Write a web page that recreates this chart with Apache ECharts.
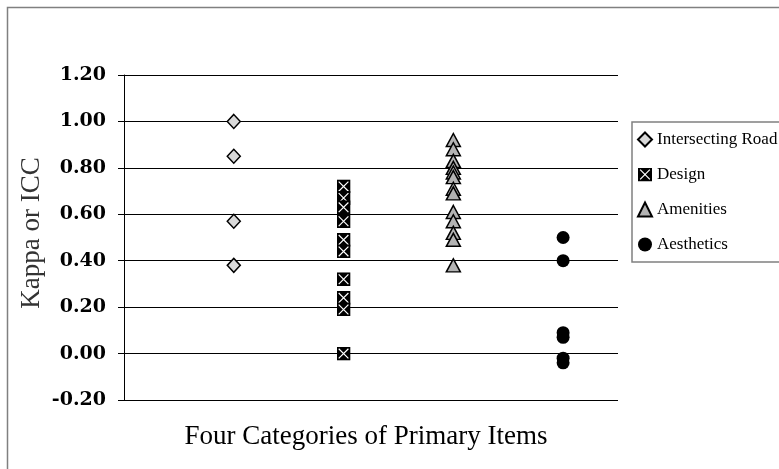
<!DOCTYPE html>
<html>
<head>
<meta charset="utf-8">
<script src="https://cdn.jsdelivr.net/npm/echarts@6/dist/echarts.min.js"></script>
<style>
html,body{margin:0;padding:0;background:#fff;}
#chart{width:779px;height:469px;}
</style>
</head>
<body>
<div id="chart"></div>
<script>
// ---- data ----
const categories = ['Intersecting Road', 'Design', 'Amenities', 'Aesthetics'];
const categoryX = [1, 2, 3, 4];
const intersectingRoad = [1.00, 0.85, 0.57, 0.38];
const design = [0.72, 0.67, 0.63, 0.57, 0.49, 0.44, 0.32, 0.24, 0.19, 0.00];
const amenities = [0.92, 0.88, 0.83, 0.80, 0.78, 0.76, 0.71, 0.69, 0.61, 0.57, 0.52, 0.49, 0.38];
const aesthetics = [0.50, 0.40, 0.09, 0.07, -0.02, -0.04];
const yMin = -0.2, yMax = 1.2, yStep = 0.2;
const yTitle = 'Kappa or ICC';
const xTitle = 'Four Categories of Primary Items';

const seriesValues = [intersectingRoad, design, amenities, aesthetics];

const xSvg = "<svg xmlns='http://www.w3.org/2000/svg' width='26' height='26'>" +
  "<rect width='26' height='26' fill='black'/>" +
  "<path d='M4,4L22,22M22,4L4,22' stroke='white' stroke-width='2.2'/></svg>";
const xSymbol = 'image://data:image/svg+xml;charset=utf-8,' + encodeURIComponent(xSvg);

const styles = [
  {symbol: 'diamond', symbolSize: [13, 14], itemStyle: {color: '#d9d9d9', borderColor: '#000', borderWidth: 1.5, opacity: 1}},
  {symbol: xSymbol, symbolSize: [14, 14], itemStyle: {color: '#000', opacity: 1}},
  {symbol: 'triangle', symbolSize: [14, 13], itemStyle: {color: '#b3b3b3', borderColor: '#000', borderWidth: 1.5, opacity: 1}},
  {symbol: 'circle', symbolSize: 13, itemStyle: {color: '#000', opacity: 1}}
];

const series = categories.map((name, i) => Object.assign({
  name: name,
  type: 'scatter',
  data: seriesValues[i].map(v => [categoryX[i], v])
}, styles[i]));

const chart = echarts.init(document.getElementById('chart'), null, {renderer: 'canvas'});
chart.setOption({
  animation: false,
  backgroundColor: '#fff',
  grid: {left: 124, right: 161, top: 75, height: 325},
  xAxis: {
    type: 'value', min: 0, max: 4.5,
    show: false
  },
  yAxis: {
    type: 'value', min: yMin, max: yMax, interval: yStep,
    axisLine: {show: true, lineStyle: {color: '#000', width: 1}},
    axisTick: {show: true, inside: false, length: 6, lineStyle: {color: '#000'}},
    splitLine: {show: true, lineStyle: {color: '#000', width: 1}},
    axisLabel: {
      margin: 18,
      formatter: v => v.toFixed(2),
      fontFamily: 'DejaVu Serif', fontWeight: 'bold', fontSize: 19, color: '#000'
    }
  },
  legend: {
    orient: 'vertical',
    left: 632, top: 122,
    padding: [9, 40, 9, 5],
    itemGap: 18,
    itemWidth: 14, itemHeight: 14,
    borderColor: '#808080', borderWidth: 1.5,
    backgroundColor: '#fff',
    textStyle: {fontFamily: 'Liberation Serif', fontSize: 17, color: '#000', lineHeight: 17},
    data: categories
  },
  graphic: [
    {type: 'rect', left: 5, top: 5, shape: {width: 800, height: 500},
     style: {fill: 'none', stroke: '#808080', lineWidth: 1.5}, silent: true, z: -1},
    {type: 'text', x: 32, y: 233, rotation: Math.PI / 2,
     style: {text: yTitle, fontFamily: 'Liberation Serif', fontSize: 27, fill: '#333',
             textAlign: 'center', textVerticalAlign: 'middle'}},
    {type: 'text', x: 366, y: 437,
     style: {text: xTitle, fontFamily: 'Liberation Serif', fontSize: 27, fill: '#000',
             textAlign: 'center', textVerticalAlign: 'middle'}}
  ],
  series: series
});
</script>
</body>
</html>
